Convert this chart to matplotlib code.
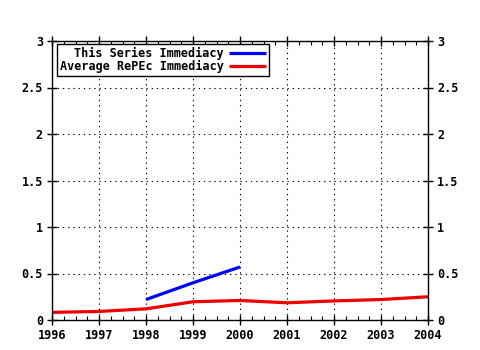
import matplotlib
matplotlib.use("Agg")
import matplotlib.pyplot as plt
from matplotlib.ticker import MultipleLocator, FuncFormatter

years_series = [1998, 1999, 2000]
series_values = [0.22, 0.40, 0.57]
years_avg = [1996, 1997, 1998, 1999, 2000, 2001, 2002, 2003, 2004]
avg_values = [0.082, 0.092, 0.12, 0.196, 0.21, 0.185, 0.205, 0.22, 0.25]
x_ticks = [1996, 1997, 1998, 1999, 2000, 2001, 2002, 2003, 2004]
y_ticks = [0, 0.5, 1, 1.5, 2, 2.5, 3]
labels = ["This Series Immediacy", "Average RePEc Immediacy"]

plt.rcParams['font.family'] = ['DejaVu Sans Mono']
plt.rcParams['font.weight'] = 'bold'

fig = plt.figure(figsize=(4.8, 3.5), dpi=100)
ax = fig.add_axes([52/480, 1-320/350, (428-52)/480, (320-41)/350])

ax.plot(years_series, series_values, color='#0000ff', lw=2.3, label=labels[0], solid_capstyle='butt')
ax.plot(years_avg, avg_values, color='#ee0000', lw=2.3, label=labels[1], solid_capstyle='butt')

ax.set_xlim(1996, 2004)
ax.set_ylim(0, 3)
ax.set_xticks(x_ticks)
ax.set_yticks(y_ticks)
ax.xaxis.set_minor_locator(MultipleLocator(0.25))
ax.yaxis.set_major_formatter(FuncFormatter(lambda v, p: ('%g' % v)))
ax.grid(True, which='major', color='black', linestyle=(0, (1.2, 3.5)), linewidth=0.8)
ax.tick_params(which='major', direction='inout', length=7, width=1, labelsize=8.5,
               top=True, right=True, labelright=True, pad=3)
ax.tick_params(which='minor', direction='in', length=3, width=0.8, top=True)
ax.tick_params(axis='y', which='minor', left=False, right=False)
for s in ax.spines.values():
    s.set_linewidth(1)
for lab in ax.get_xticklabels() + ax.get_yticklabels():
    lab.set_fontweight('bold')

leg = ax.legend(loc='upper left', bbox_to_anchor=(5/376, 1-3/279), markerfirst=False,
                fancybox=False, framealpha=1, edgecolor='black', fontsize=8.5,
                handlelength=3.2, handletextpad=0.4, borderpad=0.25, labelspacing=0.0,
                borderaxespad=0, alignment='right')
leg.get_frame().set_linewidth(1)
for t in leg.get_texts():
    t.set_fontweight('bold')
    t.set_ha('right')
leg._legend_box.align = 'right'

fig.savefig('out.png', dpi=100)
